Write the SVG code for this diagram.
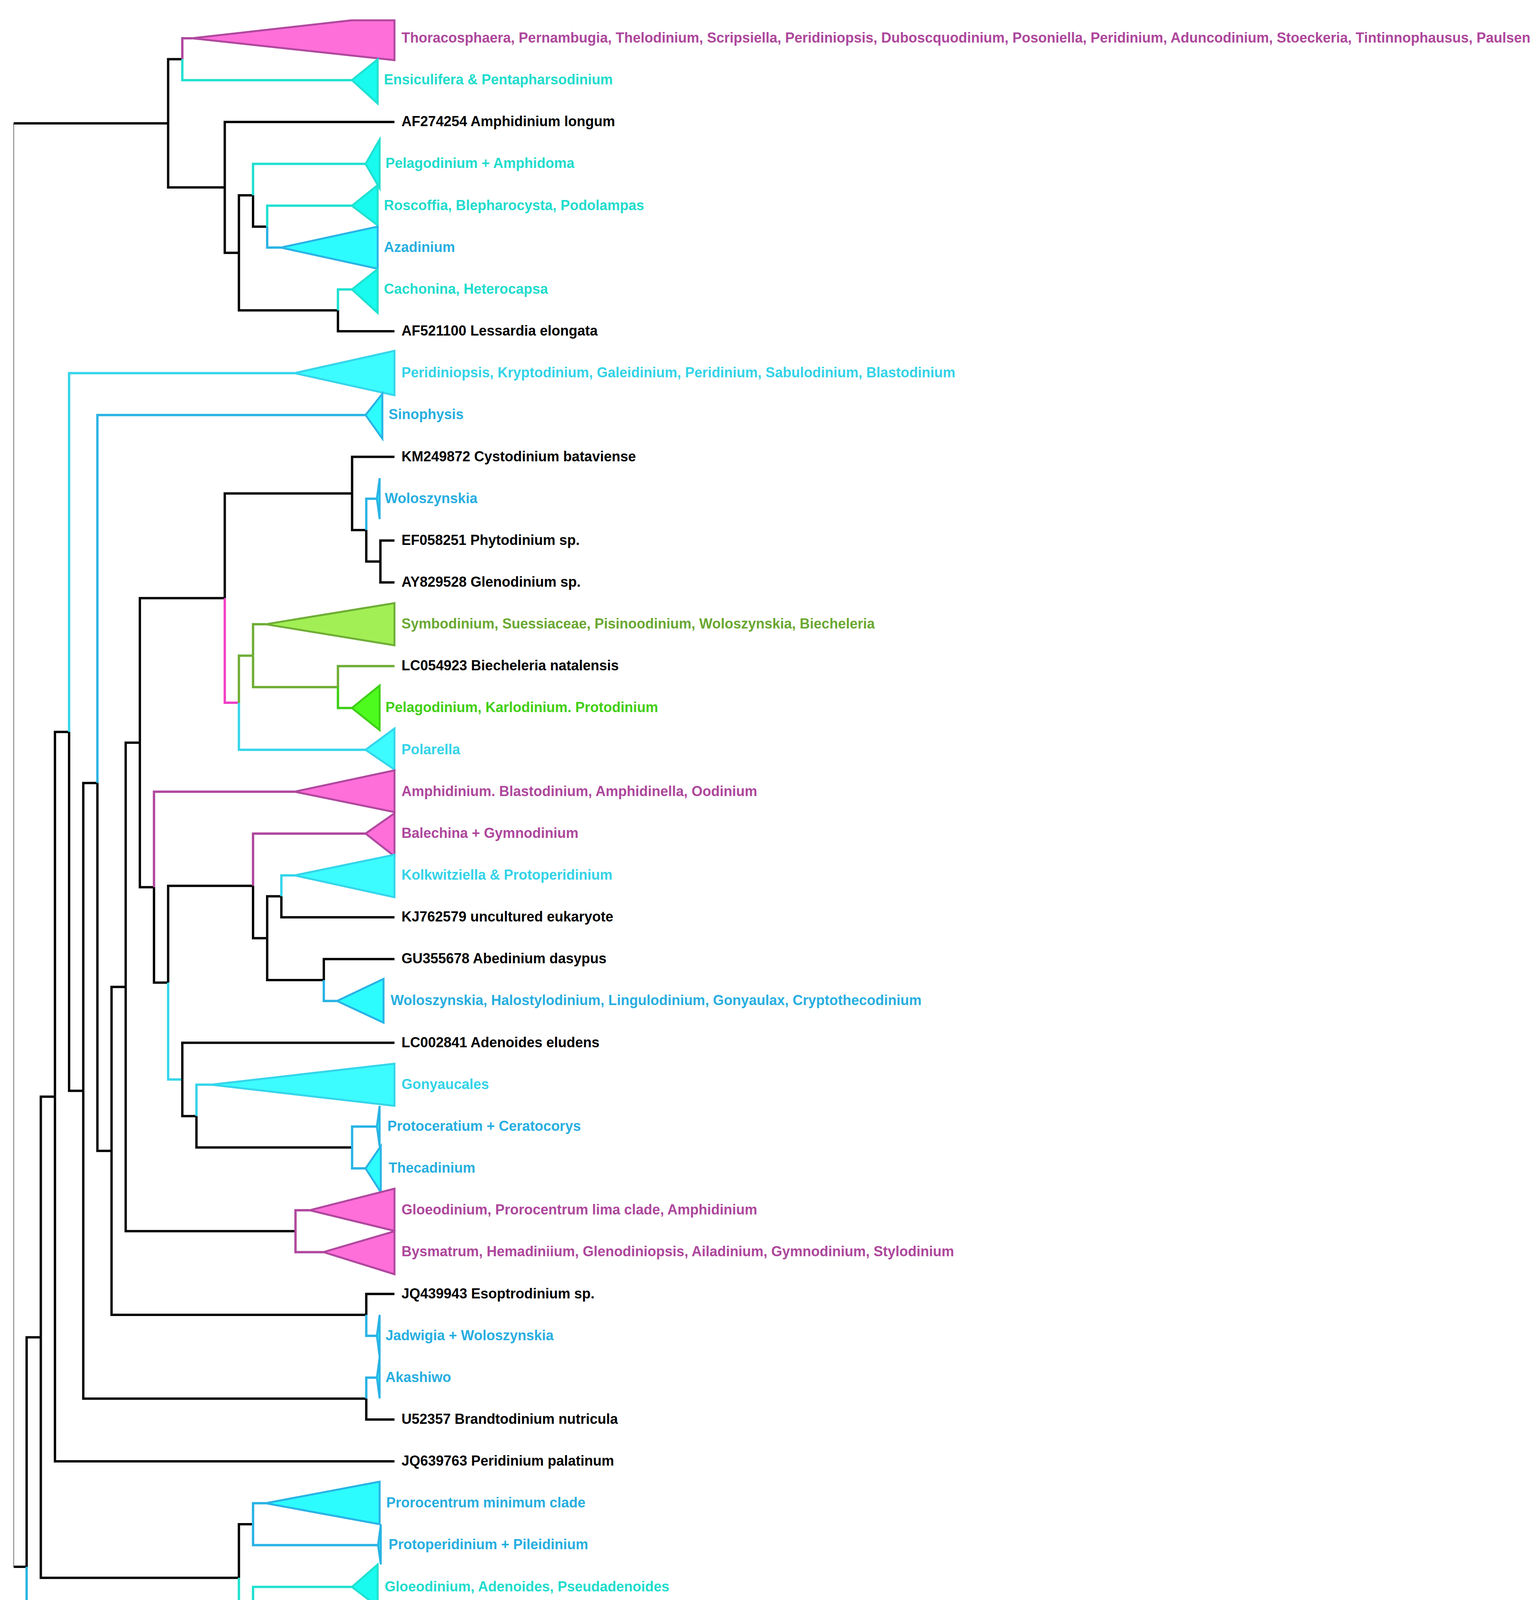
<svg xmlns="http://www.w3.org/2000/svg" width="3920" height="4673" viewBox="0 0 3920 4673">
<style>
text{font-family:"Liberation Sans",Arial,Helvetica,sans-serif;font-weight:bold;font-size:36px}
.e{fill:none;stroke-width:6;stroke-linejoin:miter;stroke-linecap:butt}
.k{stroke:#000}
.pk{stroke:#b0489e}
.hp{stroke:#ef3fc5}
.tq{stroke:#20e0d0}
.lc{stroke:#35d5ea}
.bl{stroke:#29b3e4}
.ol{stroke:#6fae36}
.gr{stroke:#3fcf17}
.tri{stroke-width:5;stroke-linejoin:miter}
.tpk{fill:#ff6fd9;stroke:#b0489e}
.ttq{fill:#18fbee;stroke:#20e0d0}
.tlc{fill:#3cfcff;stroke:#35d5ea}
.tbl{fill:#2dfcff;stroke:#29b3e4}
.tol{fill:#a2ef55;stroke:#6fae36}
.tgr{fill:#4dfc1e;stroke:#3fcf17}
.xk{fill:#000}
.xpk{fill:#ad479c}
.xtq{fill:#1fdccd}
.xlc{fill:#33d3e8}
.xbl{fill:#27aee0}
.xol{fill:#6aa832}
.xgr{fill:#41cf12}
</style>
<rect x="0" y="0" width="3920" height="4673" fill="#fff"/>
<g id="connectors">
<path d="M35,315.7 V4010.9" fill="none" stroke="#8a8a8a" stroke-width="2.5"/>
<path class="e k" d="M35,315.7 H430.5"/>
<path class="e k" d="M35,4010.9 H68.2"/>
<path class="e k" d="M430.5,315.7 V151.6 H466.8"/>
<path class="e pk" d="M466.8,151.6 V98 H491"/>
<path class="e tq" d="M466.8,151.6 V205.2 H901"/>
<path class="e k" d="M430.5,315.7 V479.8 H575.5"/>
<path class="e k" d="M575.5,479.8 V312.3 H1010"/>
<path class="e k" d="M575.5,479.8 V647.2 H611.7"/>
<path class="e k" d="M611.7,647.2 V499.9 H647.9"/>
<path class="e tq" d="M647.9,499.9 V419.5 H936"/>
<path class="e k" d="M647.9,499.9 V580.2 H684.1"/>
<path class="e tq" d="M684.1,580.2 V526.6 H901"/>
<path class="e bl" d="M684.1,580.2 V633.8 H719"/>
<path class="e k" d="M611.7,647.2 V794.5 H865.3"/>
<path class="e tq" d="M865.3,794.5 V740.9 H901"/>
<path class="e k" d="M865.3,794.5 V848.1 H1010"/>
<path class="e k" d="M68.2,4010.9 V3423.4 H104.5"/>
<path class="e bl" d="M68.2,4010.9 V4598.3 H965"/>
<path class="e k" d="M104.5,3423.4 V2807.5 H140.7"/>
<path class="e k" d="M104.5,3423.4 V4039.2 H611.7"/>
<path class="e k" d="M140.7,2807.5 V1873.8 H176.9"/>
<path class="e k" d="M140.7,2807.5 V3741.1 H1010"/>
<path class="e lc" d="M176.9,1873.8 V955.2 H754"/>
<path class="e k" d="M176.9,1873.8 V2792.4 H213.2"/>
<path class="e k" d="M213.2,2792.4 V2004.4 H249.4"/>
<path class="e k" d="M213.2,2792.4 V3580.4 H937.8"/>
<path class="e bl" d="M249.4,2004.4 V1062.4 H936"/>
<path class="e k" d="M249.4,2004.4 V2946.3 H285.6"/>
<path class="e k" d="M285.6,2946.3 V2526.5 H321.8"/>
<path class="e k" d="M285.6,2946.3 V3366.1 H937.8"/>
<path class="e k" d="M321.8,2526.5 V1901.2 H358.1"/>
<path class="e k" d="M321.8,2526.5 V3151.8 H756.6"/>
<path class="e k" d="M358.1,1901.2 V1531.2 H575.5"/>
<path class="e k" d="M358.1,1901.2 V2271.2 H394.3"/>
<path class="e k" d="M575.5,1531.2 V1263.3 H901.5"/>
<path class="e hp" d="M575.5,1531.2 V1799 H611.7"/>
<path class="e k" d="M901.5,1263.3 V1169.5 H1010"/>
<path class="e k" d="M901.5,1263.3 V1357 H937.8"/>
<path class="e bl" d="M937.8,1357 V1276.7 H965"/>
<path class="e k" d="M937.8,1357 V1437.4 H974"/>
<path class="e k" d="M974,1437.4 V1383.8 H1010"/>
<path class="e k" d="M974,1437.4 V1491 H1010"/>
<path class="e ol" d="M611.7,1799 V1678.5 H647.9"/>
<path class="e lc" d="M611.7,1799 V1919.6 H936"/>
<path class="e ol" d="M647.9,1678.5 V1598.1 H680"/>
<path class="e ol" d="M647.9,1678.5 V1758.9 H865.3"/>
<path class="e ol" d="M865.3,1758.9 V1705.3 H1010"/>
<path class="e gr" d="M865.3,1758.9 V1812.4 H901"/>
<path class="e pk" d="M394.3,2271.2 V2026.7 H754"/>
<path class="e k" d="M394.3,2271.2 V2515.6 H430.5"/>
<path class="e k" d="M430.5,2515.6 V2267.8 H647.9"/>
<path class="e lc" d="M430.5,2515.6 V2763.4 H466.8"/>
<path class="e pk" d="M647.9,2267.8 V2133.9 H936"/>
<path class="e k" d="M647.9,2267.8 V2401.8 H684.1"/>
<path class="e k" d="M684.1,2401.8 V2294.6 H720.4"/>
<path class="e k" d="M684.1,2401.8 V2508.9 H829.1"/>
<path class="e lc" d="M720.4,2294.6 V2241 H754"/>
<path class="e k" d="M720.4,2294.6 V2348.2 H1010"/>
<path class="e k" d="M829.1,2508.9 V2455.3 H1010"/>
<path class="e bl" d="M829.1,2508.9 V2562.5 H863"/>
<path class="e k" d="M466.8,2763.4 V2669.6 H1010"/>
<path class="e k" d="M466.8,2763.4 V2857.2 H503"/>
<path class="e lc" d="M503,2857.2 V2776.8 H540"/>
<path class="e k" d="M503,2857.2 V2937.5 H901.5"/>
<path class="e bl" d="M901.5,2937.5 V2883.9 H965"/>
<path class="e bl" d="M901.5,2937.5 V2991.1 H936"/>
<path class="e pk" d="M756.6,3151.8 V3098.2 H793"/>
<path class="e pk" d="M756.6,3151.8 V3205.4 H828"/>
<path class="e k" d="M937.8,3366.1 V3312.5 H1010"/>
<path class="e bl" d="M937.8,3366.1 V3419.7 H965"/>
<path class="e bl" d="M937.8,3580.4 V3526.8 H965"/>
<path class="e k" d="M937.8,3580.4 V3634 H1010"/>
<path class="e k" d="M611.7,4039.2 V3901.9 H647.9"/>
<path class="e tq" d="M611.7,4039.2 V4176.5 H647.9"/>
<path class="e bl" d="M647.9,3901.9 V3848.3 H680"/>
<path class="e bl" d="M647.9,3901.9 V3955.4 H968"/>
<path class="e tq" d="M647.9,4176.5 V4062.6 H901"/>
<path class="e k" d="M647.9,4176.5 V4290.3 H684.1"/>
<path class="e bl" d="M684.1,4290.3 V4169.7 H863"/>
<path class="e k" d="M684.1,4290.3 V4410.9 H720.4"/>
<path class="e k" d="M720.4,4410.9 V4330.5 H756.6"/>
<path class="e bl" d="M720.4,4410.9 V4491.2 H789"/>
<path class="e k" d="M756.6,4330.5 V4276.9 H1010"/>
<path class="e bl" d="M756.6,4330.5 V4384 H789"/>
</g>
<g id="leaf-0"><polygon class="tri tpk" points="491,98 900,52 1010,52 1010,154"/><text class="xpk" x="1028" y="109">Thoracosphaera, Pernambugia, Thelodinium, Scripsiella, Peridiniopsis, Duboscquodinium, Posoniella, Peridinium, Aduncodinium, Stoeckeria, Tintinnophausus, Paulsen</text></g>
<g id="leaf-1"><polygon class="tri ttq" points="901,205.2 967,152 967,265"/><text class="xtq" x="983" y="216">Ensiculifera &amp; Pentapharsodinium</text></g>
<g id="leaf-2"><text class="xk" x="1028" y="323">AF274254 Amphidinium longum</text></g>
<g id="leaf-3"><polygon class="tri ttq" points="936,419.5 972,357 972,482"/><text class="xtq" x="987" y="430">Pelagodinium + Amphidoma</text></g>
<g id="leaf-4"><polygon class="tri ttq" points="901,526.6 967,474 967,577"/><text class="xtq" x="983" y="538">Roscoffia, Blepharocysta, Podolampas</text></g>
<g id="leaf-5"><polygon class="tri tbl" points="719,633.8 967,580 967,688"/><text class="xbl" x="983" y="645">Azadinium</text></g>
<g id="leaf-6"><polygon class="tri ttq" points="901,740.9 967,689 967,801"/><text class="xtq" x="983" y="752">Cachonina, Heterocapsa</text></g>
<g id="leaf-7"><text class="xk" x="1028" y="859">AF521100 Lessardia elongata</text></g>
<g id="leaf-8"><polygon class="tri tlc" points="754,955.2 1010,898 1010,1012"/><text class="xlc" x="1028" y="966">Peridiniopsis, Kryptodinium, Galeidinium, Peridinium, Sabulodinium, Blastodinium</text></g>
<g id="leaf-9"><polygon class="tri tbl" points="936,1062.4 979,1008 979,1123"/><text class="xbl" x="995" y="1073">Sinophysis</text></g>
<g id="leaf-10"><text class="xk" x="1028" y="1181">KM249872 Cystodinium bataviense</text></g>
<g id="leaf-11"><polygon class="tri tbl" points="965,1276.7 972,1224 972,1329"/><text class="xbl" x="985" y="1288">Woloszynskia</text></g>
<g id="leaf-12"><text class="xk" x="1028" y="1395">EF058251 Phytodinium sp.</text></g>
<g id="leaf-13"><text class="xk" x="1028" y="1502">AY829528 Glenodinium sp.</text></g>
<g id="leaf-14"><polygon class="tri tol" points="680,1598.1 1010,1544 1010,1652"/><text class="xol" x="1028" y="1609">Symbodinium, Suessiaceae, Pisinoodinium, Woloszynskia, Biecheleria</text></g>
<g id="leaf-15"><text class="xk" x="1028" y="1716">LC054923 Biecheleria natalensis</text></g>
<g id="leaf-16"><polygon class="tri tgr" points="901,1812.4 972,1755 972,1869"/><text class="xgr" x="987" y="1823">Pelagodinium, Karlodinium. Protodinium</text></g>
<g id="leaf-17"><polygon class="tri tlc" points="936,1919.6 1010,1865 1010,1970"/><text class="xlc" x="1028" y="1931">Polarella</text></g>
<g id="leaf-18"><polygon class="tri tpk" points="754,2026.7 1010,1972 1010,2079"/><text class="xpk" x="1028" y="2038">Amphidinium. Blastodinium, Amphidinella, Oodinium</text></g>
<g id="leaf-19"><polygon class="tri tpk" points="936,2133.9 1010,2082 1010,2192"/><text class="xpk" x="1028" y="2145">Balechina + Gymnodinium</text></g>
<g id="leaf-20"><polygon class="tri tlc" points="754,2241 1010,2188 1010,2297"/><text class="xlc" x="1028" y="2252">Kolkwitziella &amp; Protoperidinium</text></g>
<g id="leaf-21"><text class="xk" x="1028" y="2359">KJ762579 uncultured eukaryote</text></g>
<g id="leaf-22"><text class="xk" x="1028" y="2466">GU355678 Abedinium dasypus</text></g>
<g id="leaf-23"><polygon class="tri tbl" points="863,2562.5 982,2506 982,2618"/><text class="xbl" x="1000" y="2573">Woloszynskia, Halostylodinium, Lingulodinium, Gonyaulax, Cryptothecodinium</text></g>
<g id="leaf-24"><text class="xk" x="1028" y="2681">LC002841 Adenoides eludens</text></g>
<g id="leaf-25"><polygon class="tri tlc" points="540,2776.8 1010,2723 1010,2831"/><text class="xlc" x="1028" y="2788">Gonyaucales</text></g>
<g id="leaf-26"><polygon class="tri tbl" points="965,2883.9 972,2831 972,2935"/><text class="xbl" x="992" y="2895">Protoceratium + Ceratocorys</text></g>
<g id="leaf-27"><polygon class="tri tbl" points="936,2991.1 975,2934 975,3052"/><text class="xbl" x="995" y="3002">Thecadinium</text></g>
<g id="leaf-28"><polygon class="tri tpk" points="793,3098.2 1010,3043 1010,3151"/><text class="xpk" x="1028" y="3109">Gloeodinium, Prorocentrum lima clade, Amphidinium</text></g>
<g id="leaf-29"><polygon class="tri tpk" points="828,3205.4 1010,3152 1010,3262"/><text class="xpk" x="1028" y="3216">Bysmatrum, Hemadiniium, Glenodiniopsis, Ailadinium, Gymnodinium, Stylodinium</text></g>
<g id="leaf-30"><text class="xk" x="1028" y="3324">JQ439943 Esoptrodinium sp.</text></g>
<g id="leaf-31"><polygon class="tri tbl" points="965,3419.7 972,3366 972,3474"/><text class="xbl" x="987" y="3431">Jadwigia + Woloszynskia</text></g>
<g id="leaf-32"><polygon class="tri tbl" points="965,3526.8 972,3474 972,3580"/><text class="xbl" x="987" y="3538">Akashiwo</text></g>
<g id="leaf-33"><text class="xk" x="1028" y="3645">U52357 Brandtodinium nutricula</text></g>
<g id="leaf-34"><text class="xk" x="1028" y="3752">JQ639763 Peridinium palatinum</text></g>
<g id="leaf-35"><polygon class="tri tbl" points="680,3848.3 972,3793 972,3902"/><text class="xbl" x="989" y="3859">Prorocentrum minimum clade</text></g>
<g id="leaf-36"><polygon class="tri tbl" points="968,3955.4 975,3902 975,4005"/><text class="xbl" x="995" y="3966">Protoperidinium + Pileidinium</text></g>
<g id="leaf-37"><polygon class="tri ttq" points="901,4062.6 967,4005 967,4113"/><text class="xtq" x="985" y="4074">Gloeodinium, Adenoides, Pseudadenoides</text></g>
<g id="leaf-38"><polygon class="tri tbl" points="863,4169.7 972,4116 972,4224"/><text class="xbl" x="989" y="4181">Peridinium</text></g>
<g id="leaf-39"><text class="xk" x="1028" y="4288">AB564298 Herdmania litoralis</text></g>
<g id="leaf-40"><polygon class="tri tbl" points="789,4384 972,4330 972,4435"/><text class="xbl" x="992" y="4395">Amphidiniopsis, Protoperidinium, Peridinium, Islandinium, Thecadinium, Archaeperidinium</text></g>
<g id="leaf-41"><polygon class="tri tbl" points="789,4491.2 981,4435 981,4547"/><text class="xbl" x="1000" y="4502">Diplopsalis, Preperidinium, Niea, Gotonius, Protoperidiniun,</text></g>
<g id="leaf-42"><polygon class="tri tbl" points="965,4598.3 972,4548 972,4638"/><text class="xbl" x="985" y="4609">Peridinium</text></g>
</svg>
